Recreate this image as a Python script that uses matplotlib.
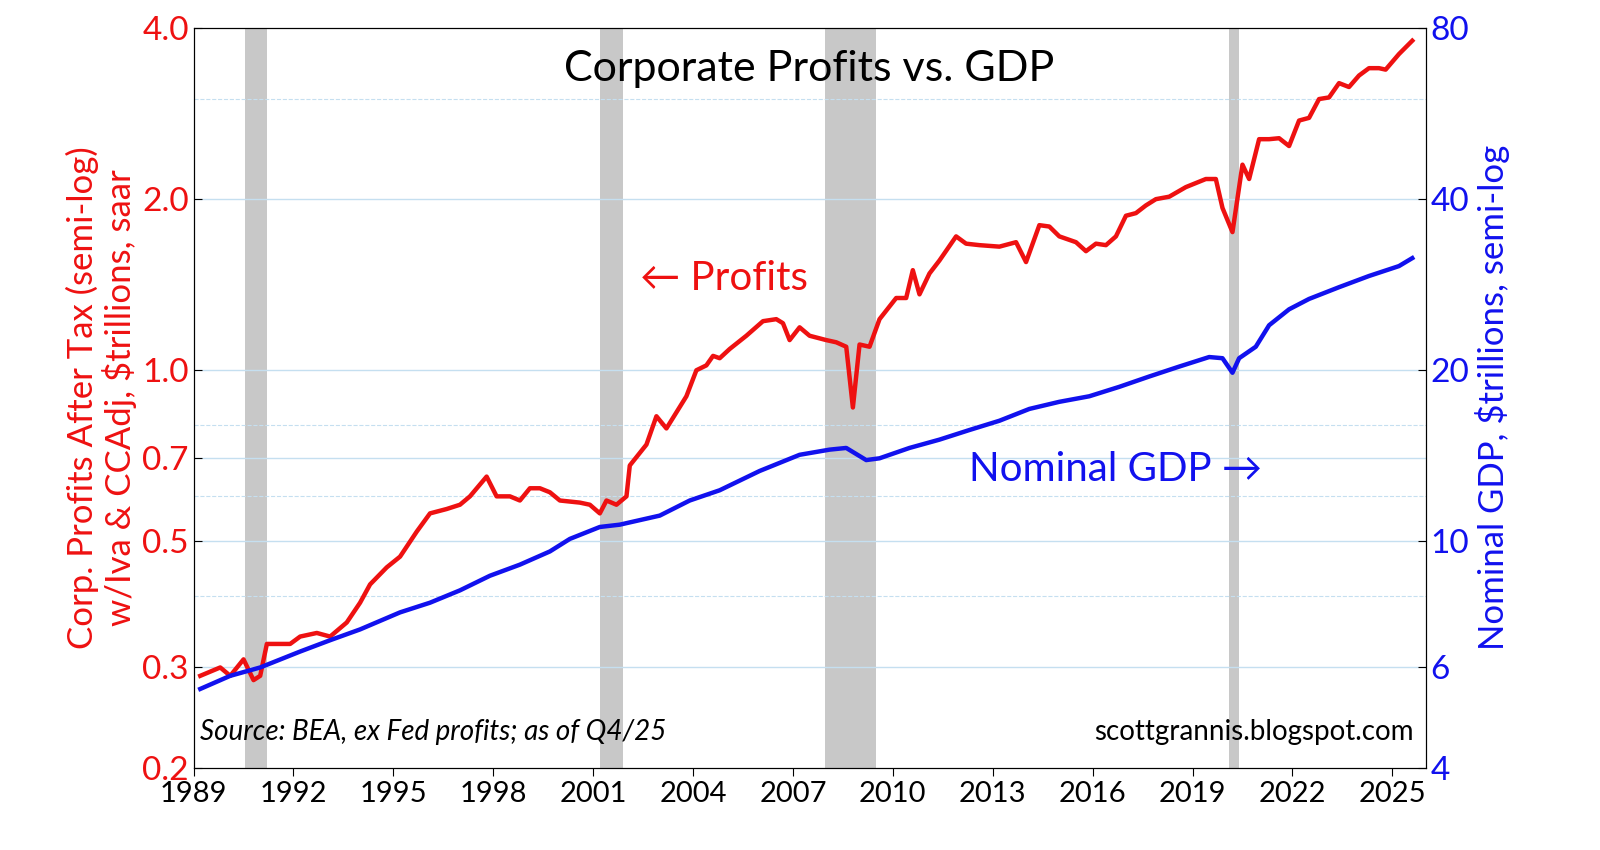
#Corporate profits vs. nominal GDP, semi-log, two axes.
import matplotlib
matplotlib.use("Agg")
import matplotlib.pyplot as plt
from matplotlib.ticker import FixedLocator, NullLocator

# Corporate profits after tax (trillions $)
profit_years = [1989.2, 1989.8, 1990.1, 1990.5, 1990.8, 1991.0, 1991.2, 1991.5, 1991.9, 1992.2,
                1992.7, 1993.1, 1993.6, 1994.0, 1994.3, 1994.8, 1995.2, 1995.7, 1996.1, 1996.6,
                1997.0, 1997.3, 1997.8, 1998.1, 1998.5, 1998.8, 1999.1, 1999.4, 1999.7, 2000.0,
                2000.6, 2000.9, 2001.2, 2001.4, 2001.7, 2002.0, 2002.1, 2002.6, 2002.9, 2003.2,
                2003.8, 2004.1, 2004.4, 2004.6, 2004.8, 2005.1, 2005.6, 2006.1, 2006.5, 2006.7,
                2006.9, 2007.2, 2007.5, 2008.0, 2008.3, 2008.6, 2008.8, 2009.0, 2009.3, 2009.6,
                2010.1, 2010.4, 2010.6, 2010.8, 2011.1, 2011.4, 2011.9, 2012.2, 2012.6, 2013.2,
                2013.7, 2014.0, 2014.4, 2014.7, 2015.0, 2015.5, 2015.8, 2016.1, 2016.4, 2016.7,
                2017.0, 2017.3, 2017.6, 2017.9, 2018.3, 2018.8, 2019.4, 2019.7, 2019.9, 2020.2,
                2020.5, 2020.7, 2021.0, 2021.3, 2021.6, 2021.9, 2022.2, 2022.5, 2022.8, 2023.1,
                2023.4, 2023.7, 2024.0, 2024.3, 2024.6, 2024.8, 2025.2, 2025.6]
profits = [0.29, 0.30, 0.29, 0.31, 0.285, 0.29, 0.33, 0.33, 0.33, 0.34,
           0.345, 0.34, 0.36, 0.39, 0.42, 0.45, 0.47, 0.52, 0.56, 0.57,
           0.58, 0.60, 0.65, 0.60, 0.60, 0.59, 0.62, 0.62, 0.61, 0.59,
           0.585, 0.58, 0.56, 0.59, 0.58, 0.60, 0.68, 0.74, 0.83, 0.79,
           0.90, 1.00, 1.02, 1.06, 1.05, 1.09, 1.15, 1.22, 1.23, 1.21,
           1.13, 1.19, 1.15, 1.13, 1.12, 1.10, 0.86, 1.11, 1.10, 1.23,
           1.34, 1.34, 1.50, 1.36, 1.48, 1.56, 1.72, 1.67, 1.66, 1.65,
           1.68, 1.55, 1.80, 1.79, 1.72, 1.68, 1.62, 1.67, 1.66, 1.72,
           1.87, 1.89, 1.95, 2.00, 2.02, 2.10, 2.17, 2.17, 1.93, 1.75,
           2.30, 2.17, 2.55, 2.55, 2.56, 2.48, 2.75, 2.78, 3.00, 3.02,
           3.20, 3.15, 3.30, 3.40, 3.40, 3.38, 3.60, 3.80]

# Nominal GDP (trillions $)
gdp_years = [1989.2, 1990.1, 1991.0, 1992.2, 1993.1, 1994.0, 1995.2, 1996.1, 1997.0, 1997.9,
             1998.8, 1999.7, 2000.3, 2001.2, 2001.8, 2003.0, 2003.9, 2004.8, 2006.0, 2007.2,
             2008.1, 2008.6, 2009.2, 2009.6, 2010.5, 2011.4, 2012.3, 2013.2, 2014.1, 2015.0,
             2015.9, 2016.8, 2017.7, 2018.6, 2019.5, 2019.9, 2020.2, 2020.4, 2020.9, 2021.3,
             2021.9, 2022.5, 2023.4, 2024.3, 2025.2, 2025.6]
gdp = [5.5, 5.8, 6.0, 6.4, 6.7, 7.0, 7.5, 7.8, 8.2, 8.7,
       9.1, 9.6, 10.1, 10.6, 10.7, 11.1, 11.8, 12.3, 13.3, 14.2,
       14.5, 14.6, 13.9, 14.0, 14.6, 15.1, 15.7, 16.3, 17.1, 17.6,
       18.0, 18.7, 19.5, 20.3, 21.1, 21.0, 19.8, 21.0, 22.0, 24.0,
       25.6, 26.7, 28.0, 29.3, 30.5, 31.5]

recessions = [(1990.55, 1991.2), (2001.2, 2001.9), (2007.95, 2009.5), (2020.1, 2020.4)]
year_ticks = list(range(1989, 2026, 3))
left_ticks = [0.2, 0.3, 0.5, 0.7, 1.0, 2.0, 4.0]
right_ticks = [4, 6, 10, 20, 40, 80]
minor_left = [0.4, 0.6, 0.8, 3.0]

plt.rcParams['font.family'] = ['Lato', 'DejaVu Sans']

fig, ax = plt.subplots(figsize=(16, 8.5), dpi=100)
fig.subplots_adjust(left=0.121, right=0.891, top=0.967, bottom=0.097)

for start, end in recessions:
    ax.axvspan(start, end, color='#c8c8c8', zorder=0, lw=0)

ax.set_yscale('log')
ax.set_ylim(0.2, 4.0)
ax.set_xlim(1989, 2026.0)
for v in left_ticks[1:-1]:
    ax.axhline(v, color='#c5dff0', lw=1, zorder=1)
for v in minor_left:
    ax.axhline(v, color='#c5dff0', lw=0.8, ls='--', zorder=1)

ax.plot(profit_years, profits, color='#ee1111', lw=3.2, zorder=3)

ax2 = ax.twinx()
ax2.set_yscale('log')
ax2.set_ylim(4, 80)
ax2.plot(gdp_years, gdp, color='#1111ee', lw=3.2, zorder=3)

ax.yaxis.set_major_locator(FixedLocator(left_ticks))
ax.yaxis.set_minor_locator(NullLocator())
ax.set_yticklabels(['%.1f' % v for v in left_ticks], color='#ee1111', fontsize=24)
ax2.yaxis.set_major_locator(FixedLocator(right_ticks))
ax2.yaxis.set_minor_locator(NullLocator())
ax2.set_yticklabels([str(v) for v in right_ticks], color='#1111ee', fontsize=24)
ax.set_xticks(year_ticks)
ax.set_xticklabels([str(y) for y in year_ticks], fontsize=21)
ax.tick_params(axis='x', direction='out', length=6)
ax.tick_params(axis='y', direction='in', length=6)
ax2.tick_params(axis='y', direction='in', length=6)

ax.set_ylabel('Corp. Profits After Tax (semi-log)\nw/Iva & CCAdj, $trillions, saar',
              color='#ee1111', fontsize=25, linespacing=1.1)
ax2.set_ylabel('Nominal GDP, $trillions, semi-log', color='#1111ee', fontsize=25)

ax.text(0.5, 0.945, 'Corporate Profits vs. GDP', transform=ax.transAxes,
        ha='center', va='center', fontsize=31)
ax.text(2002.4, 1.45, '\u2190 Profits', color='#ee1111', fontsize=29, va='center')
ax.text(2012.3, 0.67, 'Nominal GDP \u2192', color='#1111ee', fontsize=29, va='center',
        zorder=5)
ax.text(0.005, 0.03, 'Source: BEA, ex Fed profits; as of Q4/25', transform=ax.transAxes,
        fontsize=20, style='italic', va='bottom')
ax.text(0.99, 0.03, 'scottgrannis.blogspot.com', transform=ax.transAxes,
        fontsize=20, ha='right', va='bottom')

fig.savefig('out.png', dpi=100)
